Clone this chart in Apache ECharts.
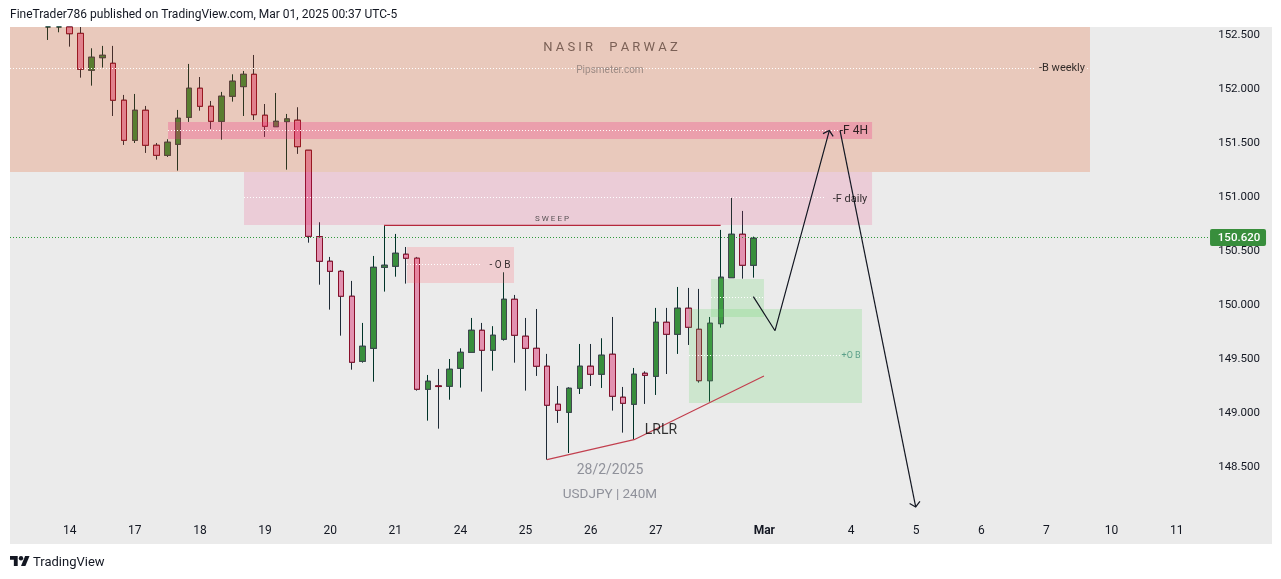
<!DOCTYPE html>
<html>
<head>
<meta charset="utf-8">
<title>USDJPY 240M</title>
<style>
  html, body { margin: 0; padding: 0; background: #fff; }
  #chart { width: 1281px; height: 579px; }
</style>
<script src="https://cdn.jsdelivr.net/npm/echarts@6/dist/echarts.min.js"></script>
</head>
<body>
<div id="chart"></div>
<script>
// candles, first index is off the top of the chart
const opens  = [152.70, 152.58, 152.70, 152.51, 152.169, 152.285, 152.233, 151.891, 151.520, 151.798, 151.474, 151.381, 151.483, 151.733, 152.002, 151.835, 151.696, 151.928, 152.017, 152.131, 151.752, 151.646, 151.693, 151.706, 151.428, 150.628, 150.400, 150.307, 150.076, 149.474, 149.594, 150.344, 150.354, 150.465, 150.428, 149.215, 149.246, 149.243, 149.409, 149.557, 149.761, 149.576, 149.678, 150.048, 149.706, 149.594, 149.428, 149.076, 149.002, 149.224, 149.428, 149.354, 149.539, 149.141, 149.076, 149.363, 149.335, 149.835, 149.724, 149.965, 149.770, 149.294, 149.822, 150.248, 150.650, 150.363]
const closes = [152.58, 152.65, 152.507, 152.178, 152.289, 152.307, 151.891, 151.520, 151.798, 151.474, 151.381, 151.502, 151.724, 152.002, 151.835, 151.696, 151.928, 152.067, 152.131, 151.757, 151.650, 151.696, 151.718, 151.461, 150.631, 150.400, 150.307, 150.076, 149.465, 149.613, 150.344, 150.363, 150.474, 150.428, 149.215, 149.289, 149.240, 149.400, 149.557, 149.761, 149.576, 149.715, 150.048, 149.715, 149.594, 149.428, 149.067, 149.020, 149.224, 149.428, 149.354, 149.530, 149.150, 149.085, 149.354, 149.344, 149.835, 149.724, 149.965, 149.789, 149.294, 149.826, 150.252, 150.650, 150.363, 150.613]
const lows   = [152.449, 152.52, 152.387, 152.10, 152.026, 152.193, 151.745, 151.477, 151.495, 151.403, 151.341, 151.366, 151.239, 151.690, 151.794, 151.625, 151.526, 151.878, 151.745, 151.708, 151.551, 151.646, 151.248, 151.394, 150.572, 150.183, 149.952, 149.711, 149.396, 149.461, 149.285, 150.119, 150.257, 150.193, 149.202, 148.924, 148.850, 149.118, 149.230, 149.557, 149.193, 149.387, 149.665, 149.461, 149.202, 149.338, 148.563, 148.903, 148.625, 149.171, 149.245, 149.227, 149.017, 148.813, 148.748, 149.079, 149.162, 149.356, 149.542, 149.625, 149.276, 149.100, 149.785, 150.248, 150.239, 150.248]
const highs  = [152.80, 152.80, 152.80, 152.60, 152.372, 152.394, 152.394, 151.940, 151.949, 151.838, 151.495, 151.530, 151.801, 152.227, 152.106, 151.884, 151.968, 152.131, 152.162, 152.310, 151.856, 151.958, 151.764, 151.826, 151.428, 150.761, 150.440, 150.319, 150.218, 149.829, 150.449, 150.730, 150.653, 150.532, 150.440, 149.347, 149.403, 149.495, 149.594, 149.875, 149.829, 149.799, 150.298, 150.088, 149.875, 149.958, 149.542, 149.245, 149.233, 149.634, 149.634, 149.687, 149.884, 149.236, 149.412, 149.381, 149.968, 149.968, 150.162, 150.153, 150.144, 149.884, 150.690, 150.986, 150.866, 150.628]
const firstBar = 3
const lastPrice = 150.62

// axes
const priceMin = 147.782
const priceMax = 152.569
const barMin = -0.5
const barMax = 115.78
const priceTicks = [148.5, 149, 149.5, 150, 150.5, 151, 151.5, 152, 152.5]
const dayBars = [5, 11, 17, 23, 29, 35, 41, 47, 53, 59, 69, 77, 83, 89, 95, 101, 107]
const dayLabels = ['14', '17', '18', '19', '20', '21', '24', '25', '26', '27', 'Mar', '4', '5', '6', '7', '10', '11']

// zones: bar from, bar to, price top, price bottom
const zoneWeekly = [barMin, 99.01, priceMax, 151.227]
const zoneDaily = [21.06, 78.93, 151.227, 150.736]
const zone4H = [14.06, 78.93, 151.690, 151.532]
const zoneObSell = [36.08, 45.94, 150.532, 150.199]
const zoneObSmall = [64.09, 68.97, 150.236, 149.884]
const zoneObBuy = [62.06, 78.00, 149.958, 149.088]
const zoneColors = ['rgba(225,65,0,0.2)', 'rgba(233,30,99,0.15)', 'rgba(244,37,124,0.25)', 'rgba(255,85,100,0.2)', 'rgba(85,210,90,0.2)', 'rgba(85,210,90,0.2)']

// dotted middle lines: bar from, bar to, price
const midLines = [
  [barMin, 93.85, 152.194],
  [98.74, 99.01, 152.194],
  [14.06, 75.79, 151.611],
  [21.06, 74.69, 150.991],
  [36.08, 42.99, 150.370],
  [64.09, 68.97, 150.069],
  [62.06, 75.98, 149.532]
]
const lastLineEnd = 110.07
const lastTagEnd = 115.23

// hand drawn lines
const pathUpBars = [67.99, 69.99, 74.99]
const pathUpPrices = [150.072, 149.757, 151.610]
const pathDownBars = [75.98, 82.95]
const pathDownPrices = [151.610, 148.125]
const trendBars = [48.98, 57.0, 68.97]
const trendPrices = [148.563, 148.748, 149.338]
const sweepBars = [33.96, 64.98]
const sweepPrices = [150.733, 150.733]

// notes on the chart
const noteTexts = ['N A S I R     P A R W A Z', 'Pipsmeter.com', '-B weekly', '-F 4H', '-F daily', '- O B', 'S W E E P', '+O B', 'LRLR', '28/2/2025', 'USDJPY | 240M']
const noteBars = [54.83, 54.78, 96.43, 77.25, 76.9, 44.65, 49.44, 77.0, 59.48, 54.78, 54.78]
const notePrices = [152.375, 152.164, 152.189, 151.606, 150.976, 150.358, 150.794, 149.522, 148.835, 148.464, 148.242]
const noteSizes = [13, 10, 11, 12, 11, 10, 8, 9, 14, 14, 13.5]
const noteColors = ['#5f463c', '#8a7a75', '#000', '#000', '#000', '#000', '#333', '#3f8f78', '#000', '#787b86', '#787b86']

const font = 'Roboto, sans-serif'
const chart = echarts.init(document.getElementById('chart'))

// the chart is cut at its top edge, candlesticks are not clipped here
const cut = v => Math.min(v, priceMax)
const candleRows = opens.map((o, i) => [i + firstBar, cut(o), cut(closes[i]), cut(lows[i]), cut(highs[i])])
const bodyRows = opens.map((o, i) => [i + firstBar, cut(o), cut(closes[i]), cut(Math.min(o, closes[i])), cut(Math.max(o, closes[i]))])
const zoneRows = [zoneWeekly, zoneDaily, zone4H, zoneObSell, zoneObSmall, zoneObBuy]

const pairs = (xs, ys) => xs.map((x, i) => [x, ys[i]])

const renderZone = (params, api) => {
  const a = api.coord([api.value(0), api.value(2)])
  const b = api.coord([api.value(1), api.value(3)])
  return {
    type: 'rect',
    shape: { x: a[0], y: a[1], width: b[0] - a[0], height: b[1] - a[1] },
    style: { fill: zoneColors[params.dataIndex] },
    silent: true
  }
}

const dottedLine = (api, stroke, dash) => {
  const a = api.coord([api.value(0), api.value(2)])
  const b = api.coord([api.value(1), api.value(2)])
  const y = Math.round(a[1]) + 0.5
  return {
    type: 'line',
    shape: { x1: a[0], y1: y, x2: b[0], y2: y },
    style: { stroke, lineWidth: 1, lineDash: dash },
    silent: true
  }
}

const renderMidLine = (params, api) => dottedLine(api, '#fff', [1, 2])
const renderLastLine = (params, api) => dottedLine(api, '#2e9a3a', [1, 2])

// price tag on the right of the last price line
const renderLastTag = (params, api) => {
  const a = api.coord([api.value(0), api.value(2)])
  const b = api.coord([api.value(1), api.value(2)])
  const y = Math.round(a[1]) + 0.5
  return {
    type: 'group',
    silent: true,
    children: [
      { type: 'rect', shape: { x: a[0], y: y - 8.5, width: b[0] - a[0], height: 17, r: 2 }, style: { fill: '#388e3c' } },
      {
        type: 'text',
        style: {
          x: (a[0] + b[0]) / 2 + 1,
          y: y + 0.5,
          text: lastPrice.toFixed(3),
          fill: '#fff',
          font: '500 11.5px ' + font,
          align: 'center',
          verticalAlign: 'middle'
        }
      }
    ]
  }
}

// open arrow head at the end of a drawn line
const renderArrow = (params, api) => {
  const from = api.coord([api.value(0), api.value(1)])
  const tip = api.coord([api.value(2), api.value(3)])
  const angle = Math.atan2(from[1] - tip[1], from[0] - tip[0])
  const wing = d => [tip[0] + 7 * Math.cos(angle + d), tip[1] + 7 * Math.sin(angle + d)]
  return {
    type: 'polyline',
    shape: { points: [wing(0.85), tip, wing(-0.85)] },
    style: { stroke: '#131722', lineWidth: 1.2, fill: null },
    silent: true
  }
}

const drawnLine = (xs, ys, color) => ({
  type: 'line',
  data: pairs(xs, ys),
  symbol: 'none',
  z: 5,
  silent: true,
  lineStyle: { color, width: 1.2 }
})

const option = {
  animation: false,
  textStyle: { fontFamily: font },
  grid: { left: 10, top: 27, width: 1262, height: 517, show: true, backgroundColor: '#ebebeb', borderWidth: 0 },
  xAxis: {
    type: 'value',
    min: barMin,
    max: barMax,
    axisLine: { show: false },
    axisTick: { show: false },
    splitLine: { show: false },
    axisLabel: {
      customValues: dayBars,
      inside: true,
      margin: 7,
      color: '#131722',
      fontSize: 12,
      fontFamily: font,
      formatter: v => (v === 69 ? '{b|Mar}' : dayLabels[dayBars.indexOf(v)]),
      rich: { b: { fontWeight: 'bold', fontSize: 12, color: '#131722', fontFamily: font } }
    }
  },
  yAxis: {
    type: 'value',
    position: 'right',
    min: priceMin,
    max: priceMax,
    axisLine: { show: false },
    axisTick: { show: false },
    splitLine: { show: false },
    axisLabel: {
      customValues: priceTicks,
      inside: true,
      margin: 12,
      color: '#131722',
      fontSize: 11.5,
      fontFamily: font,
      lineHeight: 2,
      verticalAlign: 'top',
      formatter: v => v.toFixed(3)
    }
  },
  graphic: [
    { type: 'text', left: 10, top: 9, style: { text: 'FineTrader786 published on TradingView.com, Mar 01, 2025 00:37 UTC-5', fill: '#131722', font: '12px ' + font } },
    { type: 'text', left: 33, top: 556, style: { text: 'TradingView', fill: '#131722', font: '13px ' + font } },
    {
      type: 'group',
      x: 10,
      y: 553.8,
      scaleX: 0.55,
      scaleY: 0.55,
      children: [
        { type: 'polygon', shape: { points: [[14, 22], [7, 22], [7, 11], [0, 11], [0, 4], [14, 4]] }, style: { fill: '#131722' } },
        { type: 'polygon', shape: { points: [[28, 22], [20, 22], [27.5, 4], [35.5, 4]] }, style: { fill: '#131722' } },
        { type: 'circle', shape: { cx: 20, cy: 8, r: 4 }, style: { fill: '#131722' } }
      ]
    }
  ],
  series: [
    {
      // wicks
      type: 'candlestick',
      data: candleRows,
      barWidth: 6,
      z: 2,
      silent: true,
      itemStyle: { color: '#003328', color0: '#1e2a36', borderColor: '#003328', borderColor0: '#1e2a36', borderWidth: 1 }
    },
    {
      // bodies
      type: 'candlestick',
      data: bodyRows,
      barWidth: 6,
      z: 2,
      silent: true,
      itemStyle: { color: '#388e3c', color0: '#e291b0', borderColor: '#434651', borderColor0: '#880e2a', borderWidth: 1 }
    },
    { type: 'custom', renderItem: renderZone, data: zoneRows, z: 3, silent: true },
    { type: 'custom', renderItem: renderMidLine, data: midLines, z: 4, silent: true },
    { type: 'custom', renderItem: renderLastLine, data: [[barMin, lastLineEnd, lastPrice]], z: 4, silent: true },
    { type: 'custom', renderItem: renderLastTag, data: [[lastLineEnd, lastTagEnd, lastPrice]], z: 6, silent: true },
    drawnLine(pathUpBars, pathUpPrices, '#131722'),
    drawnLine(pathDownBars, pathDownPrices, '#131722'),
    drawnLine(trendBars, trendPrices, '#c2404f'),
    drawnLine(sweepBars, sweepPrices, '#b5283c'),
    {
      type: 'custom',
      renderItem: renderArrow,
      z: 5,
      silent: true,
      data: [
        [pathUpBars[1], pathUpPrices[1], pathUpBars[2], pathUpPrices[2]],
        [pathDownBars[0], pathDownPrices[0], pathDownBars[1], pathDownPrices[1]]
      ]
    },
    {
      // notes
      type: 'scatter',
      symbolSize: 0,
      z: 6,
      silent: true,
      data: noteTexts.map((t, i) => ({
        value: [noteBars[i], notePrices[i]],
        label: { show: true, position: 'inside', formatter: t, fontSize: noteSizes[i], color: noteColors[i], fontFamily: font }
      }))
    }
  ]
}

chart.setOption(option)
</script>
</body>
</html>
